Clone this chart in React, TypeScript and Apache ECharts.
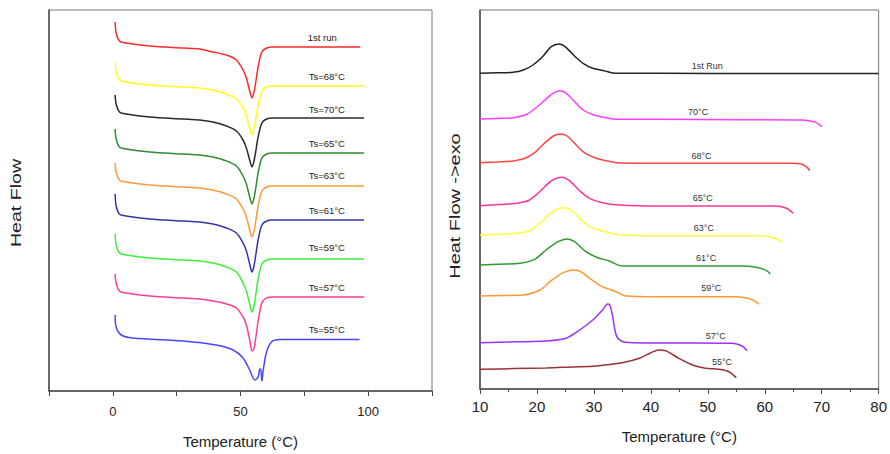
import React, { useEffect, useRef } from "react";
import * as echarts from "echarts";

// ---------- Left panel (melting, endotherms) ----------
const leftTempsRun1 = [0.9, 1.3, 2.6, 5.2, 14.4, 27.5, 34, 39.2, 44.5, 48.4, 51, 52.3, 53.7, 54.5, 55.2, 55.8, 56.9, 58.2, 59.5, 62.1, 96.9];
const leftTemps = [0.9, 1.3, 2.6, 5.2, 14.4, 27.5, 34, 39.2, 44.5, 48.4, 51, 52.3, 53.7, 54.5, 55.2, 55.8, 56.9, 58.2, 59.5, 62.1, 98.4];
const leftTempsTs55 = [0.9, 1.3, 3.3, 7.8, 27.5, 40.5, 47.1, 51, 53.6, 55.6, 56.9, 57.6, 57.9, 58.4, 58.8, 60.1, 62.1, 65.4, 96.6];

const leftRun1 = [369, 358, 350, 348, 345, 343, 342, 339, 336, 331, 321, 313, 299, 293, 298, 306, 324, 338, 342, 344, 344];
const leftTs68 = [329, 319, 311, 309, 306, 304, 303, 301, 297, 292, 283, 275, 262, 256, 261, 269, 286, 299, 303, 305, 305];
const leftTs70 = [296, 287, 279, 277, 274, 272, 271, 269, 265, 260, 251, 243, 230, 224, 229, 237, 254, 267, 271, 273, 273];
const leftTs65 = [262, 252, 244, 242, 239, 237, 236, 234, 230, 225, 215, 207, 193, 187, 192, 200, 218, 232, 236, 238, 238];
const leftTs63 = [228, 219, 211, 209, 206, 204, 203, 201, 197, 192, 182, 174, 160, 154, 159, 167, 185, 199, 203, 205, 205];
const leftTs61 = [197, 185, 177, 175, 172, 170, 169, 167, 163, 158, 148, 140, 126, 119, 124, 133, 151, 165, 169, 171, 171];
const leftTs59 = [157, 146, 138, 136, 133, 131, 130, 128, 124, 119, 108, 100, 86, 79, 84, 93, 112, 126, 130, 132, 132];
const leftTs57 = [117, 108, 100, 98, 95, 93, 92, 90, 87, 83, 74, 66, 50, 40, 42, 50, 70, 87, 92, 94, 94];
const leftTs55 = [76, 64, 56, 53, 50, 46, 41, 33, 21, 11, 14, 22, 22, 10, 19, 38, 49, 51.5, 51.5];

const leftLabelNames = ["1st run", "Ts=68°C", "Ts=70°C", "Ts=65°C", "Ts=63°C", "Ts=61°C", "Ts=59°C", "Ts=57°C", "Ts=55°C"];
const leftLabelT = [82.0, 83.8, 83.8, 83.8, 83.8, 83.8, 83.8, 83.8, 83.8];
const leftLabelH = [354, 315, 282, 248, 216, 181, 144, 104, 62];
const leftColors = ["#ff2a2a", "#ffff1a", "#2b2b2b", "#2e8b2e", "#ff9a3c", "#3434a8", "#3cf03c", "#ff3c96", "#4646ff"];

// ---------- Right panel (crystallisation, exotherms) ----------
const rightRun1T = [10, 13, 15.8, 17.6, 19.3, 21.1, 22.5, 23.9, 25.1, 26.6, 28.1, 29.8, 31.8, 33.9, 41.4, 60, 80];
const rightRun1H = [315.7, 316.2, 316.7, 319, 324, 333, 342.3, 345, 341.7, 333, 325.7, 320.7, 318.3, 315.7, 315.7, 315.5, 315.5];
const right70T = [10, 13, 15.8, 17.9, 19.6, 21.4, 22.8, 24, 25, 26.6, 28.1, 30.1, 31.8, 33.9, 41.4, 55, 66.4, 68.2, 69.3, 70];
const right70H = [270, 270.6, 271.3, 274, 280, 289, 295.7, 298.3, 296.3, 287.3, 279, 273.7, 271.7, 269.7, 269.7, 269.3, 269, 267.7, 265.7, 262.3];
const right68T = [10, 13, 15.8, 17.9, 19.6, 21.4, 22.9, 24.1, 25.3, 26.9, 28.3, 30.4, 32.4, 33.9, 41.4, 55, 64.7, 66.4, 67.3, 67.9];
const right68H = [226.3, 227, 228, 230.7, 236.3, 246.3, 253, 255, 253, 244, 236.3, 230.7, 228, 226.3, 225.7, 225.7, 225.7, 225, 222.3, 218.3];
const right65T = [10, 13.5, 16.4, 18.7, 20.8, 22.5, 24.3, 25.7, 27.5, 29.2, 31.5, 34.5, 41.4, 55, 61.8, 63.8, 65];
const right65H = [183.3, 184.5, 185.7, 189, 199, 208, 211.7, 208.3, 198.3, 190.7, 186.3, 184, 183, 183, 183, 180.7, 175.7];
const right63T = [10, 13.5, 16.4, 19, 21.1, 22.8, 24.3, 25.4, 27.2, 29.2, 31.5, 35, 41.4, 55, 59.4, 61.5, 62.5, 62.9];
const right63H = [154, 154.8, 155.7, 159, 169, 177.3, 181.3, 180.7, 172.3, 162.3, 158, 154, 153.3, 153.3, 153.3, 151.3, 149, 146.3];
const right61T = [10, 13.5, 17, 19.6, 21.6, 23.7, 25.3, 26.6, 28.6, 30.7, 32.7, 35, 41.4, 52, 56.5, 58.9, 60.3, 61.0];
const right61H = [124, 124.8, 125.7, 129.7, 139, 147.3, 150, 147.3, 137.3, 131.3, 128, 123, 123, 123, 123, 121.3, 118.3, 115];
const right59T = [10, 14, 17.6, 20.5, 22.5, 24.6, 26.3, 27.5, 29.5, 31.5, 33.9, 35.6, 41.4, 50, 54.8, 57.1, 58.4, 59.0];
const right59H = [93, 93.5, 94, 99, 108.3, 116.3, 119, 118, 109.7, 102.3, 97.3, 93, 92.3, 92.3, 92.3, 90.7, 87.3, 84.7];
const right57T = [10, 16, 21.6, 25.1, 27.5, 29.8, 31.5, 32.4, 32.8, 33.3, 33.9, 34.8, 36.8, 45, 54.3, 56, 56.9];
const right57H = [46.3, 47.2, 48, 50.7, 59, 69, 79, 85, 84, 72.3, 54, 48, 46.3, 46, 45.7, 43, 38.3];
const right55T = [10, 16, 21.6, 26, 30.4, 35, 38, 40, 41.4, 42.6, 44.9, 47.3, 49.6, 51.9, 53.7, 55];
const right55H = [19.7, 20.4, 21, 22, 23, 26.3, 30.7, 36.3, 39, 38.3, 30.7, 24, 20.7, 19.7, 17.3, 11.3];

const rightLabelNames = ["1st Run", "70°C", "68°C", "65°C", "63°C", "61°C", "59°C", "57°C", "55°C"];
const rightLabelT = [49.9, 48.3, 48.9, 49.1, 49.3, 49.7, 50.6, 51.4, 52.5];
const rightLabelH = [323, 277, 233, 191, 161, 131, 101, 53, 27];
const rightColors = ["#222222", "#ff3cff", "#ff4444", "#ff3399", "#ffff33", "#2e9a2e", "#ff9933", "#9933ff", "#993333"];

const leftXTicks = [0, 50, 100];
const FONT = "Liberation Sans, Arial, sans-serif";

function zip(xs: number[], ys: number[]) {
  return xs.map((x, i) => [x, ys[i]]);
}

function buildOption() {
  const leftSets: [number[], number[]][] = [
    [leftTempsRun1, leftRun1],
    [leftTemps, leftTs68],
    [leftTemps, leftTs70],
    [leftTemps, leftTs65],
    [leftTemps, leftTs63],
    [leftTemps, leftTs61],
    [leftTemps, leftTs59],
    [leftTemps, leftTs57],
    [leftTempsTs55, leftTs55],
  ];
  const rightSets: [number[], number[]][] = [
    [rightRun1T, rightRun1H],
    [right70T, right70H],
    [right68T, right68H],
    [right65T, right65H],
    [right63T, right63H],
    [right61T, right61H],
    [right59T, right59H],
    [right57T, right57H],
    [right55T, right55H],
  ];

  const series: any[] = [];
  leftSets.forEach(([t, h], i) => {
    series.push({
      type: "line",
      name: "L " + leftLabelNames[i],
      xAxisIndex: 0,
      yAxisIndex: 0,
      data: zip(t, h),
      showSymbol: false,
      smooth: 0.3,
      lineStyle: { color: leftColors[i], width: 1.5 },
      itemStyle: { color: leftColors[i] },
      markPoint: {
        symbol: "circle",
        symbolSize: 1,
        itemStyle: { color: "rgba(0,0,0,0)" },
        label: {
          show: true,
          position: "inside",
          formatter: leftLabelNames[i],
          color: "#222",
          fontSize: 9.5,
          fontFamily: FONT,
        },
        data: [{ coord: [leftLabelT[i], leftLabelH[i]] }],
      },
    });
  });
  rightSets.forEach(([t, h], i) => {
    series.push({
      type: "line",
      name: "R " + rightLabelNames[i],
      xAxisIndex: 1,
      yAxisIndex: 1,
      data: zip(t, h),
      showSymbol: false,
      smooth: 0.3,
      lineStyle: { color: rightColors[i], width: 1.5 },
      itemStyle: { color: rightColors[i] },
      markPoint: {
        symbol: "circle",
        symbolSize: 1,
        itemStyle: { color: "rgba(0,0,0,0)" },
        label: {
          show: true,
          position: "inside",
          formatter: rightLabelNames[i],
          color: "#333",
          fontSize: 9,
          fontFamily: FONT,
        },
        data: [{ coord: [rightLabelT[i], rightLabelH[i]] }],
      },
    });
  });

  const axisLine = { show: true, onZero: false, lineStyle: { color: "#4d4d4d", width: 1.5 } };

  return {
    animation: false,
    backgroundColor: "#ffffff",
    grid: [
      { left: 49, top: 10, width: 383, height: 381, show: true, borderColor: "#777", borderWidth: 1 },
      { left: 480, top: 10, width: 401, height: 379, show: true, borderColor: "#777", borderWidth: 1 },
    ],
    xAxis: [
      {
        type: "value",
        gridIndex: 0,
        min: -25,
        max: 125,
        interval: 25,
        axisLine,
        axisTick: { show: true, length: 5, lineStyle: { color: "#4d4d4d" } },
        splitLine: { show: false },
        axisLabel: {
          margin: 14,
          fontSize: 13,
          fontFamily: FONT,
          color: "#222",
          formatter: (v: number) => (leftXTicks.indexOf(v) >= 0 ? String(v) : ""),
        },
        name: "Temperature (°C)",
        nameLocation: "middle",
        nameGap: 43,
        nameTextStyle: { fontSize: 15, fontFamily: FONT, color: "#222" },
      },
      {
        type: "value",
        gridIndex: 1,
        min: 10,
        max: 80,
        interval: 10,
        axisLine,
        axisTick: { show: true, length: 5, lineStyle: { color: "#4d4d4d" } },
        minorTick: { show: true, splitNumber: 2, length: 3, lineStyle: { color: "#4d4d4d" } },
        splitLine: { show: false },
        axisLabel: { margin: 10, fontSize: 15, fontFamily: FONT, color: "#222" },
        name: "Temperature (°C)",
        nameLocation: "middle",
        nameGap: 40,
        nameTextStyle: { fontSize: 15, fontFamily: FONT, color: "#222" },
      },
    ],
    yAxis: [
      {
        type: "value",
        gridIndex: 0,
        min: 0,
        max: 381,
        axisLine,
        axisTick: { show: false },
        axisLabel: { show: false },
        splitLine: { show: false },
      },
      {
        type: "value",
        gridIndex: 1,
        min: 0,
        max: 379,
        axisLine,
        axisTick: { show: false },
        axisLabel: { show: false },
        splitLine: { show: false },
      },
    ],
    graphic: [
      {
        type: "text",
        x: 16,
        y: 203,
        rotation: Math.PI / 2,
        scaleX: 1.4,
        style: { text: "Heat Flow", fontSize: 14, fontFamily: FONT, fill: "#222", align: "center", verticalAlign: "middle" },
      },
      {
        type: "text",
        x: 455,
        y: 206,
        rotation: Math.PI / 2,
        scaleX: 1.42,
        style: { text: "Heat Flow ->exo", fontSize: 14, fontFamily: FONT, fill: "#222", align: "center", verticalAlign: "middle" },
      },
    ],
    series,
  };
}

export default function App() {
  const ref = useRef<HTMLDivElement>(null);
  useEffect(() => {
    if (!ref.current) return;
    const chart = echarts.init(ref.current, undefined, { renderer: "svg" });
    chart.setOption(buildOption() as any);
    return () => chart.dispose();
  }, []);
  return (
    <div
      ref={ref}
      style={{ position: "fixed", left: 0, top: 0, width: 890, height: 454, background: "#fff" }}
    />
  );
}
